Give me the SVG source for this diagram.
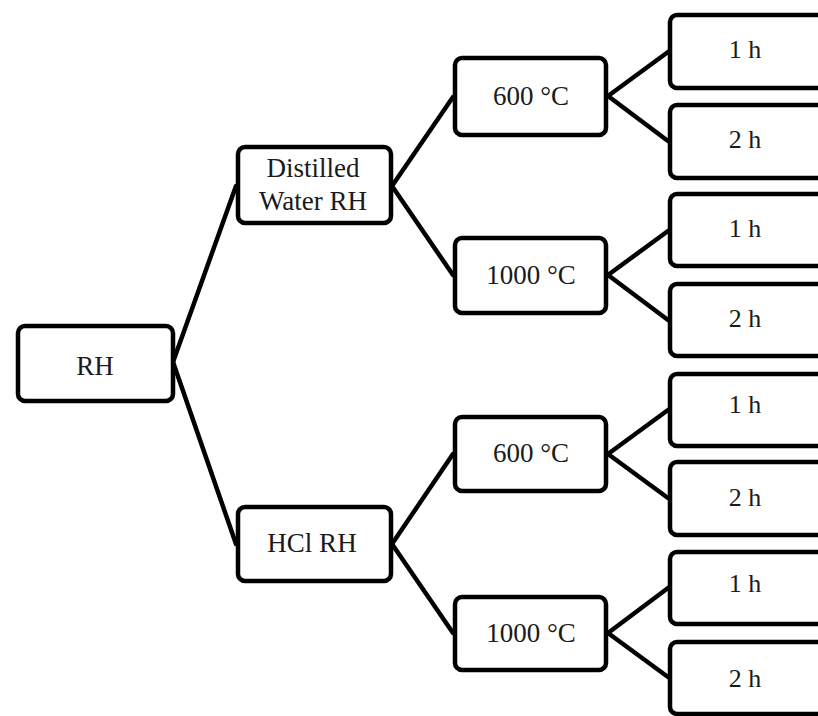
<svg xmlns="http://www.w3.org/2000/svg" width="818" height="716" viewBox="0 0 818 716">
<style>
.box{fill:#fff;stroke:#000;stroke-width:4.5}
.t{font-family:"Liberation Serif","Times New Roman",serif;font-size:27px;fill:#1a1a1a;text-anchor:middle}
.l{font-family:"Liberation Serif","Times New Roman",serif;font-size:26px;fill:#1a1a1a;text-anchor:middle}
.c{stroke:#000;stroke-width:4.5;fill:none;stroke-linecap:round}
</style>
<rect width="818" height="716" fill="#fff"/>
<g id="connectors">
<path class="c" d="M173 362 L236 186 M173 362 L236 544"/>
<path class="c" d="M392 186 L453 97 M392 186 L453 275"/>
<path class="c" d="M392 544 L453 454 M392 544 L453 633"/>
<path class="c" d="M608 96 L668 52 M608 96 L668 141"/>
<path class="c" d="M608 275 L668 231 M608 275 L668 320"/>
<path class="c" d="M608 454 L668 410 M608 454 L668 498"/>
<path class="c" d="M608 633 L668 588 M608 633 L668 677"/>
</g>
<g id="n-rh"><rect class="box" x="18" y="326" width="155" height="75" rx="7"/><text class="t" x="95" y="375">RH</text></g>
<g id="n-dw"><rect class="box" x="238" y="147" width="153" height="76" rx="7"/><text class="t" x="313" y="177">Distilled</text><text class="t" x="313" y="210">Water RH</text></g>
<g id="n-hcl"><rect class="box" x="238" y="507" width="153" height="74" rx="7"/><text class="t" x="312" y="552">HCl RH</text></g>
<g id="n-600a"><rect class="box" x="455" y="58" width="151" height="77" rx="7"/><text class="t" x="531" y="105">600 °C</text></g>
<g id="n-1000a"><rect class="box" x="455" y="238" width="151" height="75" rx="7"/><text class="t" x="531" y="284">1000 °C</text></g>
<g id="n-600b"><rect class="box" x="455" y="417" width="151" height="74" rx="7"/><text class="t" x="531" y="462">600 °C</text></g>
<g id="n-1000b"><rect class="box" x="455" y="597" width="151" height="73" rx="7"/><text class="t" x="531" y="642">1000 °C</text></g>
<g id="n-l1"><rect class="box" x="670" y="15" width="170" height="73" rx="7"/><text class="l" x="745" y="58">1 h</text></g>
<g id="n-l2"><rect class="box" x="670" y="105" width="170" height="73" rx="7"/><text class="l" x="745" y="148">2 h</text></g>
<g id="n-l3"><rect class="box" x="670" y="194" width="170" height="72" rx="7"/><text class="l" x="745" y="237">1 h</text></g>
<g id="n-l4"><rect class="box" x="670" y="284" width="170" height="72" rx="7"/><text class="l" x="745" y="327">2 h</text></g>
<g id="n-l5"><rect class="box" x="670" y="374" width="170" height="72" rx="7"/><text class="l" x="745" y="413">1 h</text></g>
<g id="n-l6"><rect class="box" x="670" y="462" width="170" height="73" rx="7"/><text class="l" x="745" y="506">2 h</text></g>
<g id="n-l7"><rect class="box" x="670" y="552" width="170" height="72" rx="7"/><text class="l" x="745" y="592">1 h</text></g>
<g id="n-l8"><rect class="box" x="670" y="642" width="170" height="72" rx="7"/><text class="l" x="745" y="687">2 h</text></g>
</svg>
